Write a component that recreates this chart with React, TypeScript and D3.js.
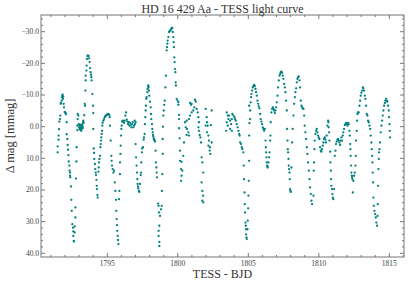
import React from 'react';
import * as d3 from 'd3';

const title = 'HD 16 429 Aa - TESS light curve';
const xLabel = 'TESS - BJD';
const yLabel = 'Δ mag [mmag]';
const xTicks = [1795, 1800, 1805, 1810, 1815];
const yTicks = [-30, -20, -10, 0, 10, 20, 30, 40];
const xDomain = [1790.3, 1816.04];
const yDomain = [-35.27, 41.17];

// [BJD - 2457000, delta mag (mmag)]
const lightCurve: [number, number][] = [
  [1791.48,6.2],[1791.48,8.1],[1791.55,4.1],[1791.55,2.8],[1791.58,0.8],[1791.60,-1.6],[1791.65,-2.4],[1791.67,-3.5],
  [1791.70,-7.2],[1791.72,-7.5],[1791.77,-8.2],[1791.79,-9.3],[1791.81,-9.8],[1791.84,-10.1],[1791.86,-8.8],[1791.88,-9.5],
  [1791.91,-7.2],[1791.93,-6.1],[1791.98,-4.7],[1792.00,-4.5],[1792.05,-4.3],[1792.07,-3.9],[1792.12,-1.4],[1792.12,2.4],
  [1792.17,3.9],[1792.19,5.8],[1792.22,7.3],[1792.24,9.0],[1792.26,11.0],[1792.31,12.3],[1792.33,13.9],[1792.36,14.5],
  [1792.36,15.5],[1792.38,16.0],[1792.43,18.9],[1792.45,23.1],[1792.48,26.6],[1792.52,30.8],[1792.57,31.9],[1792.59,33.1],
  [1792.59,34.5],[1792.62,36.1],[1792.64,36.3],[1792.69,33.4],[1792.69,31.5],[1792.74,28.7],[1792.74,25.5],[1792.78,16.4],
  [1792.81,11.0],[1792.83,6.5],[1792.88,1.1],[1792.88,-0.3],[1792.90,-2.4],[1792.90,-4.0],[1792.95,-3.5],
  [1792.97,-0.8],[1793.00,0.3],[1793.02,-0.3],[1793.04,0.5],[1793.05,-0.6],[1793.07,0.9],[1793.09,0.2],[1793.11,-0.5],
  [1793.12,1.0],[1793.14,0.7],[1793.16,1.3],[1793.18,-0.1],[1793.19,0.2],[1793.21,-0.3],[1793.23,-0.8],[1793.25,0.0],
  [1793.26,0.5],[1793.28,-1.4],[1793.30,-1.9],
  [1793.33,-1.2],[1793.37,-3.6],[1793.40,-7.2],[1793.42,-6.6],[1793.45,-11.4],[1793.47,-14.6],[1793.47,-16.1],[1793.52,-17.7],
  [1793.54,-19.3],[1793.56,-21.4],[1793.59,-22.3],[1793.63,-22.5],[1793.68,-22.3],[1793.71,-21.6],[1793.75,-20.4],[1793.78,-18.5],
  [1793.82,-17.2],[1793.85,-16.4],[1793.87,-15.6],[1793.89,-14.6],[1793.94,-10.3],[1793.99,-6.6],[1794.01,-4.3],[1794.01,0.7],
  [1794.04,6.9],[1794.06,8.3],[1794.08,10.2],[1794.13,11.8],[1794.15,13.4],[1794.18,14.5],[1794.20,15.3],[1794.23,16.8],
  [1794.25,18.7],[1794.27,19.7],[1794.30,21.6],[1794.32,22.4],
  [1794.37,14.2],[1794.39,12.9],[1794.41,11.3],[1794.44,10.2],[1794.48,9.2],[1794.51,6.5],[1794.53,5.5],[1794.56,4.4],
  [1794.58,3.4],[1794.60,2.3],[1794.63,1.3],[1794.65,-0.3],[1794.67,-1.2],[1794.72,-1.9],[1794.77,-2.4],[1794.82,-3.0],
  [1794.86,-3.3],[1794.91,-3.5],[1794.96,-3.7],[1795.01,-3.9],[1795.05,-4.0],[1795.10,-3.9],[1795.15,-3.7],[1795.17,-3.0],
  [1795.19,-0.3],[1795.24,4.4],[1795.29,9.2],[1795.31,10.8],[1795.34,12.3],[1795.38,13.4],[1795.43,14.5],[1795.48,13.9],
  [1795.53,17.6],[1795.57,20.3],[1795.62,23.1],[1795.64,26.6],[1795.67,29.2],[1795.69,31.1],[1795.71,32.9],[1795.74,34.5],
  [1795.76,35.8],[1795.79,37.1],
  [1795.83,22.9],[1795.86,20.3],[1795.90,15.0],[1795.90,11.3],[1795.93,8.6],[1795.95,6.0],[1795.97,2.8],[1796.00,0.7],
  [1796.02,-0.3],[1796.05,-1.6],[1796.09,-1.9],[1796.14,-1.6],[1796.19,-1.2],[1796.23,-1.9],[1796.28,-3.5],[1796.33,-4.5],
  [1796.38,-2.2],[1796.42,-1.6],[1796.47,-0.8],[1796.52,-1.4],[1796.57,-0.3],[1796.61,-1.2],[1796.66,-0.5],[1796.71,0.2],
  [1796.76,-0.8],[1796.80,-1.4],[1796.85,0.2],[1796.90,-0.3],[1796.94,-1.9],[1796.96,-0.8],[1797.01,-1.4],
  [1797.01,5.5],[1797.04,9.7],[1797.08,12.3],[1797.11,14.5],[1797.13,16.6],[1797.15,18.1],[1797.18,18.9],[1797.20,19.5],
  [1797.25,20.3],[1797.27,20.6],
  [1797.32,18.1],[1797.37,15.3],[1797.39,14.5],[1797.41,11.3],[1797.46,8.1],[1797.48,6.9],[1797.53,6.5],[1797.58,4.1],
  [1797.60,3.4],[1797.65,2.3],[1797.67,-0.8],[1797.70,-3.0],[1797.72,-5.1],[1797.74,-6.6],[1797.77,-8.8],[1797.79,-9.3],
  [1797.84,-10.9],[1797.86,-11.9],[1797.89,-12.8],[1797.91,-13.0],[1797.93,-12.4],[1797.96,-11.4],[1797.98,-9.8],[1798.03,-7.9],
  [1798.08,-6.1],[1798.10,-4.0],[1798.12,-2.4],[1798.17,-0.8],[1798.19,0.7],[1798.22,1.8],[1798.24,2.6],[1798.26,3.1],
  [1798.29,3.7],[1798.31,3.9],[1798.34,4.2],[1798.36,4.4],[1798.38,4.7],[1798.43,7.6],[1798.45,11.3],[1798.48,12.9],
  [1798.50,14.5],[1798.52,16.0],
  [1798.60,24.3],[1798.64,25.0],[1798.67,27.1],[1798.74,28.2],[1798.81,26.1],[1798.86,25.0],[1798.69,31.3],[1798.64,32.9],
  [1798.64,34.5],[1798.69,36.4],[1798.69,37.7],
  [1798.88,20.3],[1798.90,15.0],[1798.93,8.6],[1798.93,3.9],[1798.95,0.0],[1798.97,-3.5],[1799.00,-5.1],[1799.04,-6.9],
  [1799.07,-8.2],[1799.12,-12.4],[1799.16,-16.1],[1799.21,-24.1],[1799.23,-25.1],[1799.26,-26.2],[1799.28,-27.2],[1799.33,-28.3],
  [1799.38,-29.9],[1799.42,-30.1],[1799.47,-30.4],[1799.52,-30.7],[1799.57,-31.1],[1799.61,-31.2],[1799.64,-29.9],[1799.68,-28.3],
  [1799.71,-26.7],[1799.73,-25.1],[1799.75,-21.9],[1799.78,-20.4],[1799.80,-18.2],[1799.83,-17.2],[1799.85,-14.0],[1799.87,-13.0],
  [1799.92,-8.8],[1799.99,-8.2],[1800.04,-7.7],[1800.04,-6.9],[1800.09,-3.7],[1800.09,-2.4],[1800.09,0.5],[1800.13,3.7],
  [1800.16,7.6],[1800.16,10.8],[1800.27,11.1],[1800.23,13.4],[1800.32,13.9],[1800.27,15.5],[1800.23,17.1],
  [1800.39,9.2],[1800.44,5.0],
  [1800.51,-1.4],[1800.56,0.2],[1800.63,-1.9],[1800.63,2.6],[1800.65,0.7],[1800.75,1.8],[1800.79,-2.4],[1800.79,2.8],
  [1800.87,-3.5],[1800.87,-7.5],[1800.94,-6.9],[1800.98,-7.2],[1800.98,-4.5],[1801.10,-5.1],[1801.17,-6.1],[1801.22,-8.5],
  [1801.27,-7.9],[1801.34,-5.6],[1801.41,-4.5],[1801.46,-3.0],[1801.46,0.2],[1801.50,-1.4],[1801.50,1.3],[1801.55,2.6],
  [1801.60,3.4],
  [1801.65,5.0],[1801.69,9.7],[1801.74,11.3],[1801.81,14.5],[1801.69,17.6],[1801.74,20.3],[1801.79,21.8],[1801.74,23.4],
  [1801.81,23.9],
  [1801.98,-5.6],[1802.05,-3.0],[1802.07,-1.4],[1802.12,-0.3],[1801.98,-0.3],[1802.40,-5.1],[1802.35,-0.5],[1802.17,2.8],
  [1802.21,4.4],[1802.17,6.0],[1802.28,6.5],[1802.26,7.6],[1802.31,8.6],[1802.40,5.0],[1802.07,1.8],
  [1803.47,-4.5],[1803.54,-3.5],[1803.59,-2.4],[1803.47,-1.4],[1803.54,-0.3],[1803.43,1.3],[1803.64,-3.5],[1803.71,-1.9],
  [1803.78,-0.8],[1803.83,-2.4],[1803.87,-4.0],[1803.95,-3.5],[1804.02,-3.0],[1804.06,-2.4],[1804.11,-1.9],[1804.18,-0.8],
  [1804.25,0.2],[1804.30,1.3],[1804.35,2.3],[1804.39,2.8],[1803.71,0.7],[1803.83,1.3],[1804.42,5.0],[1804.49,5.5],
  [1804.54,6.5],[1804.58,7.1],[1804.65,8.1],
  [1804.68,12.3],[1804.70,16.6],[1804.73,20.8],[1804.75,24.5],[1804.77,27.1],[1804.80,30.3],[1804.82,31.3],[1804.84,32.4],
  [1804.84,34.0],[1804.87,35.0],[1804.89,35.5],
  [1804.94,32.4],[1804.96,29.7],[1804.99,25.8],[1805.01,21.8],[1805.03,17.1],[1805.06,10.8],[1805.06,2.8],[1805.08,-1.1],
  [1805.13,-2.4],[1805.06,-6.6],[1805.13,-5.1],[1805.17,-7.7],[1805.20,-9.3],[1805.22,-10.3],[1805.27,-11.4],[1805.32,-12.4],
  [1805.36,-12.8],[1805.41,-13.2],[1805.46,-12.8],[1805.51,-11.9],[1805.55,-10.9],[1805.60,-9.8],[1805.65,-8.2],[1805.70,-7.2],
  [1805.74,-6.4],[1805.79,-5.8],[1805.84,-4.0],[1805.88,-2.4],[1805.93,-1.6],[1805.98,-0.8],[1806.03,0.2],[1806.07,0.7],
  [1806.12,1.3],[1806.17,0.7],[1806.22,4.4],[1806.24,6.5],[1806.26,8.1],[1806.29,9.7],[1806.31,11.3],[1806.33,12.3],
  [1806.36,12.9],[1806.38,12.6],[1806.43,11.3],[1806.48,9.7],[1806.50,8.1],[1806.55,4.4],[1806.57,2.8],[1806.59,-1.4],
  [1806.64,-4.5],[1806.69,-5.6],[1806.74,-6.1],[1806.78,-5.6],[1806.83,-5.1],[1806.88,-4.3],[1806.92,-5.1],[1806.97,-6.1],
  [1807.02,-7.7],[1807.07,-9.8],[1807.11,-12.4],[1807.16,-14.6],[1807.21,-16.1],[1807.26,-16.7],[1807.30,-17.2],[1807.35,-17.4],
  [1807.40,-17.0],[1807.44,-16.1],[1807.49,-15.1],[1807.54,-13.5],[1807.59,-12.4],[1807.63,-10.9],[1807.68,-8.2],[1807.73,-5.1],
  [1807.75,0.7],[1807.78,4.4],[1807.80,7.1],[1807.82,8.1],[1807.85,10.2],[1807.87,12.3],[1807.89,13.4],[1807.92,14.5],
  [1807.94,16.6],[1807.96,19.7],[1807.99,20.3],[1808.01,20.6],
  [1808.06,12.9],[1808.11,5.0],[1808.15,0.7],[1808.20,-3.5],[1808.25,-7.2],[1808.30,-9.3],[1808.34,-10.9],[1808.39,-12.1],
  [1808.44,-14.0],[1808.48,-15.1],[1808.53,-15.6],[1808.58,-15.9],[1808.63,-14.6],[1808.67,-12.4],[1808.72,-8.2],[1808.77,-6.6],
  [1808.82,-6.1],[1808.86,-5.8],[1808.91,-5.6],[1808.96,-3.5],[1809.00,-0.3],[1809.05,1.8],[1809.10,3.9],[1809.15,6.5],
  [1809.19,8.6],[1809.24,11.3],[1809.29,13.9],[1809.34,16.6],[1809.38,19.2],[1809.43,21.3],[1809.48,23.4],[1809.52,24.5],
  [1809.62,21.8],[1809.64,13.9],[1809.66,11.3],[1809.69,7.1],[1809.71,4.4],[1809.76,2.3],[1809.81,1.3],[1809.85,0.7],
  [1809.90,1.8],[1809.95,2.8],[1809.99,3.4],[1810.04,3.9],[1810.09,6.5],[1810.14,7.6],[1810.18,7.9],[1810.23,7.1],
  [1810.28,6.0],[1810.33,5.0],[1810.37,3.9],[1810.42,3.4],[1810.47,4.1],[1810.51,5.0],[1810.56,2.8],[1810.61,-0.3],
  [1810.66,-1.9],[1810.68,-1.4],[1810.70,0.2],[1810.73,1.8],[1810.75,4.4],[1810.80,7.9],[1810.82,11.3],[1810.85,13.9],
  [1810.87,16.6],[1810.89,18.7],[1810.94,19.7],[1810.96,21.3],[1810.99,22.4],[1811.03,22.9],
  [1811.08,19.7],[1811.13,9.2],[1811.18,7.6],[1811.22,5.5],[1811.27,4.7],[1811.32,4.1],[1811.37,3.9],[1811.41,4.4],
  [1811.46,5.0],[1811.51,5.8],[1811.55,4.4],[1811.60,3.4],[1811.65,4.4],[1811.70,2.8],[1811.74,1.8],[1811.79,0.7],
  [1811.84,-0.5],[1811.89,-0.8],[1811.93,-1.2],[1811.98,-0.8],[1812.03,-0.3],[1812.08,-1.2],[1812.12,-0.8],[1812.17,1.3],
  [1812.19,2.8],[1812.22,5.5],[1812.24,7.1],[1812.26,9.2],[1812.29,12.3],[1812.31,14.5],[1812.34,15.5],[1812.36,16.0],
  [1812.38,16.6],[1812.41,20.8],[1812.45,17.1],[1812.50,15.5],[1812.55,14.5],[1812.60,12.3],[1812.62,9.2],[1812.64,4.4],
  [1812.69,1.3],[1812.71,-1.9],[1812.74,-4.0],[1812.78,-4.5],[1812.83,-4.5],[1812.88,-6.6],[1812.93,-8.2],[1812.97,-9.8],
  [1813.02,-10.7],[1813.07,-11.4],[1813.12,-12.4],[1813.16,-12.1],[1813.21,-11.4],[1813.26,-9.8],[1813.30,-8.8],[1813.35,-6.6],
  [1813.40,-4.0],[1813.45,-3.5],[1813.49,-1.9],[1813.54,-1.4],[1813.59,-0.3],[1813.64,0.7],[1813.68,2.8],[1813.73,5.0],
  [1813.75,7.1],[1813.78,9.2],[1813.80,11.3],[1813.82,14.5],[1813.85,17.6],[1813.87,22.4],[1813.90,25.0],[1813.94,26.6],
  [1813.99,27.6],[1814.04,28.7],[1814.08,30.3],[1814.13,31.3],[1814.16,28.2],[1814.18,24.5],[1814.20,18.7],[1814.23,13.4],
  [1814.25,10.2],[1814.27,8.1],[1814.30,7.1],[1814.34,5.0],[1814.39,1.8],[1814.44,-0.3],[1814.49,-1.9],[1814.53,-3.5],
  [1814.58,-5.1],[1814.63,-6.6],[1814.68,-7.5],[1814.72,-8.2],[1814.77,-8.8],[1814.82,-8.2],[1814.86,-7.9],[1814.91,-6.6],
  [1814.96,-5.1],[1814.98,-3.0],[1815.01,-0.8],[1815.03,1.3],[1815.05,3.4],
];

const W = 411;
const H = 285;
const L = 41, T = 15, R = 404, B = 257;
const axisColor = '#777';
const textColor = '#444';
const font = "'Liberation Serif', 'Times New Roman', serif";

export default function App() {
  const x = d3.scaleLinear().domain(xDomain).range([L, R]);
  const y = d3.scaleLinear().domain(yDomain).range([T, B]);
  const fmtY = d3.format('.1f');
  const xMinor = d3.range(Math.ceil(xDomain[0]), Math.floor(xDomain[1]) + 1).filter((v) => !xTicks.includes(v));
  const yMinor = d3.range(-34, 41, 2).filter((v) => !yTicks.includes(v));

  return (
    <svg width={W} height={H} style={{ position: 'absolute', left: 0, top: 0, background: '#fff' }} fontFamily={font}>
      <rect x={0} y={0} width={W} height={H} fill="#fff" />
      {lightCurve.map(([t, m], i) => (
        <circle key={i} cx={x(t)} cy={y(m)} r={1.15} fill="#008080" />
      ))}
      <rect x={L} y={T} width={R - L} height={B - T} fill="none" stroke={axisColor} strokeWidth={1} />
      {xTicks.map((v) => (
        <g key={'xt' + v}>
          <line x1={x(v)} x2={x(v)} y1={B} y2={B - 4} stroke={axisColor} />
          <line x1={x(v)} x2={x(v)} y1={T} y2={T + 4} stroke={axisColor} />
          <text x={x(v)} y={B + 9} textAnchor="middle" fontSize={7.5} fill={textColor}>{v}</text>
        </g>
      ))}
      {xMinor.map((v) => (
        <g key={'xm' + v}>
          <line x1={x(v)} x2={x(v)} y1={B} y2={B - 2} stroke={axisColor} />
          <line x1={x(v)} x2={x(v)} y1={T} y2={T + 2} stroke={axisColor} />
        </g>
      ))}
      {yTicks.map((v) => (
        <g key={'yt' + v}>
          <line x1={L} x2={L + 4} y1={y(v)} y2={y(v)} stroke={axisColor} />
          <line x1={R} x2={R - 4} y1={y(v)} y2={y(v)} stroke={axisColor} />
          <text x={L - 2} y={y(v)} dy="0.33em" textAnchor="end" fontSize={7.5} fill={textColor}>{fmtY(v)}</text>
        </g>
      ))}
      {yMinor.map((v) => (
        <g key={'ym' + v}>
          <line x1={L} x2={L + 2} y1={y(v)} y2={y(v)} stroke={axisColor} />
          <line x1={R} x2={R - 2} y1={y(v)} y2={y(v)} stroke={axisColor} />
        </g>
      ))}
      <text x={(L + R) / 2} y={12.5} textAnchor="middle" fontSize={12} fill="#333">{title}</text>
      <text x={(L + R) / 2} y={278} textAnchor="middle" fontSize={12} fill="#333">{xLabel}</text>
      <text transform={`translate(13.5, ${(T + B) / 2}) rotate(-90)`} textAnchor="middle" fontSize={12.5} fill="#333">{yLabel}</text>
    </svg>
  );
}
